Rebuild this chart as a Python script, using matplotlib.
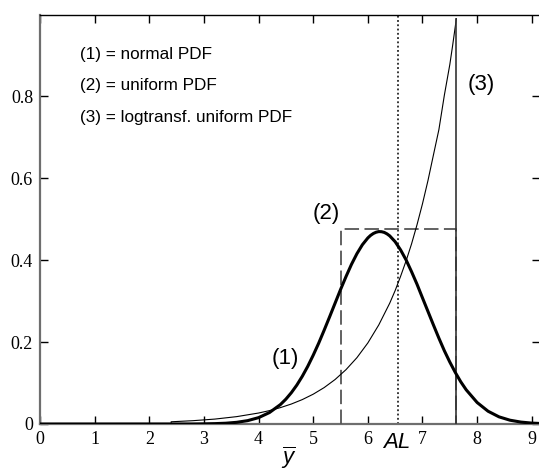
import matplotlib
matplotlib.use('Agg')
import matplotlib.pyplot as plt

plt.rcParams['mathtext.fontset'] = 'custom'
plt.rcParams['mathtext.it'] = 'Liberation Sans:italic'
plt.rcParams['mathtext.rm'] = 'Liberation Sans'

# (1) normal PDF
norm_x = [0.0, 2.8, 3.0, 3.2, 3.4, 3.6, 3.8, 4.0, 4.2, 4.4, 4.5, 4.6, 4.7, 4.8, 4.9,
          5.0, 5.1, 5.2, 5.3, 5.4, 5.5, 5.6, 5.7, 5.8, 5.9, 6.0, 6.05, 6.1, 6.15,
          6.2, 6.25, 6.3, 6.35, 6.4, 6.5, 6.6, 6.7, 6.8, 6.9, 7.0, 7.1, 7.2, 7.3,
          7.4, 7.5, 7.6, 7.7, 7.8, 8.0, 8.2, 8.4, 8.6, 8.8, 9.0, 9.2]
norm_y = [0.0, 0.0001, 0.0004, 0.0009, 0.0019, 0.0041, 0.0082, 0.0155, 0.028, 0.0475,
          0.0607, 0.0765, 0.095, 0.1165, 0.1408, 0.168, 0.1973, 0.229, 0.2617, 0.295,
          0.3283, 0.360, 0.3898, 0.416, 0.4379, 0.4545, 0.4607, 0.4653, 0.4684,
          0.470, 0.4697, 0.468, 0.4645, 0.4596, 0.4452, 0.425, 0.4007, 0.372, 0.3413,
          0.308, 0.275, 0.242, 0.2097, 0.179, 0.1513, 0.126, 0.1032, 0.0835, 0.0525,
          0.0312, 0.0175, 0.0093, 0.0047, 0.0022, 0.001]

# (2) uniform PDF
unif_lo = 5.5
unif_hi = 7.62
unif_h = 0.476

# (3) log-transformed uniform PDF
log_x = [0.0, 2.4, 2.4, 2.8, 3.2, 3.6, 4.0, 4.2, 4.4, 4.6, 4.8, 5.0, 5.2, 5.4, 5.6,
         5.8, 6.0, 6.2, 6.4, 6.5, 6.6, 6.7, 6.8, 6.9, 7.0, 7.1, 7.2, 7.3, 7.4, 7.5,
         7.55, 7.62]
log_y = [0.0, 0.0, 0.0054, 0.0081, 0.012, 0.018, 0.0268, 0.0327, 0.040, 0.0488,
         0.0596, 0.0728, 0.0889, 0.1086, 0.1327, 0.162, 0.198, 0.242, 0.295, 0.326,
         0.361, 0.3985, 0.440, 0.4868, 0.538, 0.5945, 0.657, 0.719, 0.803, 0.878,
         0.923, 0.99]

al_x = 6.56
xticks = [0, 1, 2, 3, 4, 5, 6, 7, 8, 9]
yticks = [0, 0.2, 0.4, 0.6, 0.8]
ytick_labels = ['0', '0.2', '0.4', '0.6', '0.8']

fig = plt.figure(figsize=(5.39, 4.73), dpi=100)
ax = fig.add_axes([0.0742, 0.1036, 0.9276, 0.8655])

ax.plot(norm_x, norm_y, color='black', lw=2.2, zorder=4)
ax.plot([unif_lo, unif_lo, unif_hi, unif_hi], [0, unif_h, unif_h, 0],
        color='#555555', lw=1.3, dashes=(8, 3), zorder=3)
ax.plot(log_x, log_y, color='black', lw=0.8, zorder=3)
ax.plot([log_x[-1], log_x[-1]], [log_y[-1], 0], color='#333333', lw=1.2, zorder=3)
ax.axvline(al_x, color='black', lw=1.1, ls=(0, (1.2, 1.6)), zorder=2)

ax.set_xlim(0, 9.15)
ax.set_ylim(0, 1.0)

ax.set_xticks(xticks)
ax.set_yticks(yticks)
ax.set_yticklabels(ytick_labels)
ax.tick_params(direction='in', length=6, width=1, top=True, right=True,
               labelsize=13, pad=5)
for lab in ax.get_xticklabels() + ax.get_yticklabels():
    lab.set_family('Liberation Serif')

for side in ['left', 'bottom']:
    ax.spines[side].set_color('#6e6e6e')
    ax.spines[side].set_linewidth(1.6)
ax.spines['top'].set_color('black')
ax.spines['top'].set_linewidth(1.0)

sans = 'Liberation Sans'
ax.text(0.73, 0.902, '(1) = normal PDF', fontsize=12.3, family=sans, va='center')
ax.text(0.73, 0.826, '(2) = uniform PDF', fontsize=12.3, family=sans, va='center')
ax.text(0.73, 0.748, '(3) = logtransf. uniform PDF', fontsize=12.3, family=sans, va='center')

ax.text(5.24, 0.515, '(2)', fontsize=16, family=sans, ha='center', va='center')
ax.text(8.08, 0.83, '(3)', fontsize=16, family=sans, ha='center', va='center')
ax.text(4.49, 0.16, '(1)', fontsize=16, family=sans, ha='center', va='center')

ax.text(al_x - 0.03, -0.045, 'AL', fontsize=16, family=sans, style='italic',
        ha='center', va='center', clip_on=False)
ax.text(4.55, -0.082, r'$\overline{y}$', fontsize=16, ha='center', va='center',
        clip_on=False)

fig.savefig('out.png', dpi=100)
